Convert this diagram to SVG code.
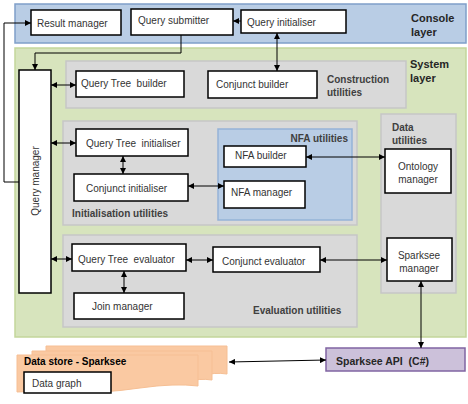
<svg xmlns="http://www.w3.org/2000/svg" width="468" height="404" viewBox="0 0 468 404">
<defs>
<marker id="ah" viewBox="0 0 6 6" refX="6" refY="3" markerWidth="6" markerHeight="6" markerUnits="userSpaceOnUse" orient="auto-start-reverse">
<path d="M0,0 L6,3 L0,6 Z" fill="#000"/>
</marker>
</defs>
<style>
text{font-family:"Liberation Sans",Arial,sans-serif;white-space:pre;}
.n{fill:#fff;stroke:#000;stroke-width:1.5;}
.t{font-size:10px;fill:#333;}
.lb{font-size:11px;font-weight:bold;fill:#262626;}
.ul{font-size:10px;font-weight:bold;fill:#404040;}
.grey{fill:#d9d9d9;stroke:#c6c6c6;stroke-width:1.5;}
.c{fill:none;stroke:#000;stroke-width:1;}
.d{marker-start:url(#ah);marker-end:url(#ah);}
.e{marker-end:url(#ah);}
</style>
<rect width="468" height="404" fill="#fff"/>
<g id="console-layer">
<rect x="15" y="4" width="451" height="39" fill="#b9cde5" stroke="#7f9fc9" stroke-width="1.5"/>
<text class="lb" x="411" y="22">Console</text>
<text class="lb" x="411" y="36">layer</text>
</g>
<g id="system-layer">
<rect x="15" y="48" width="451" height="289" fill="#d7e4bd" stroke="#c3d69b" stroke-width="1.5"/>
<text class="lb" x="410" y="68">System</text>
<text class="lb" x="410" y="82">layer</text>
</g>
<g id="construction-utilities">
<rect class="grey" x="66" y="61" width="340" height="47"/>
<text class="ul" x="327" y="83">Construction</text>
<text class="ul" x="327" y="96">utilities</text>
</g>
<g id="initialisation-utilities">
<rect class="grey" x="63" y="121" width="294" height="104"/>
<text class="ul" x="72" y="217">Initialisation utilities</text>
</g>
<g id="nfa-utilities">
<rect x="218" y="129" width="134" height="91" fill="#b9cde5" stroke="#95b3d7" stroke-width="1.5"/>
<text class="ul" x="348" y="142" text-anchor="end" fill="#262626">NFA utilities</text>
</g>
<g id="evaluation-utilities">
<rect class="grey" x="63" y="235" width="294" height="92"/>
<text class="ul" x="253" y="314">Evaluation utilities</text>
</g>
<g id="data-utilities">
<rect class="grey" x="381" y="114" width="75" height="179"/>
<text class="ul" x="392" y="131">Data</text>
<text class="ul" x="392" y="144">utilities</text>
</g>
<g id="result-manager">
<rect class="n" x="31" y="10" width="90" height="25"/>
<text class="t" x="37" y="27">Result manager</text>
</g>
<g id="query-submitter">
<rect class="n" x="131" y="9" width="102" height="26"/>
<text class="t" x="138" y="24">Query submitter</text>
</g>
<g id="query-initialiser">
<rect class="n" x="241" y="10" width="105" height="23"/>
<text class="t" x="247" y="26">Query initialiser</text>
</g>
<g id="query-manager">
<rect class="n" x="19" y="70" width="32" height="223"/>
<text class="t" transform="translate(39,181) rotate(-90)" text-anchor="middle">Query manager</text>
</g>
<g id="query-tree-builder">
<rect class="n" x="76" y="71" width="108" height="26"/>
<text class="t" x="81" y="87">Query Tree  builder</text>
</g>
<g id="conjunct-builder">
<rect class="n" x="208" y="71" width="109" height="27"/>
<text class="t" x="216" y="88">Conjunct builder</text>
</g>
<g id="query-tree-initialiser">
<rect class="n" x="76" y="129" width="112" height="27"/>
<text class="t" x="86" y="147">Query Tree  initialiser</text>
</g>
<g id="conjunct-initialiser">
<rect class="n" x="74" y="174" width="114" height="27"/>
<text class="t" x="86" y="192">Conjunct initialiser</text>
</g>
<g id="nfa-builder">
<rect class="n" x="224" y="146" width="82" height="21"/>
<text class="t" x="235" y="159">NFA builder</text>
</g>
<g id="nfa-manager">
<rect class="n" x="224" y="181" width="81" height="27"/>
<text class="t" x="231" y="196">NFA manager</text>
</g>
<g id="ontology-manager">
<rect class="n" x="385" y="149" width="66" height="44"/>
<text class="t" x="418" y="170" text-anchor="middle">Ontology</text>
<text class="t" x="418" y="183" text-anchor="middle">manager</text>
</g>
<g id="query-tree-evaluator">
<rect class="n" x="72" y="244" width="114" height="27"/>
<text class="t" x="78" y="263">Query Tree  evaluator</text>
</g>
<g id="join-manager">
<rect class="n" x="74" y="293" width="110" height="26"/>
<text class="t" x="92" y="310">Join manager</text>
</g>
<g id="conjunct-evaluator">
<rect class="n" x="213" y="247" width="107" height="25"/>
<text class="t" x="222" y="265">Conjunct evaluator</text>
</g>
<g id="sparksee-manager">
<rect class="n" x="387" y="238" width="65" height="43"/>
<text class="t" x="419" y="259" text-anchor="middle">Sparksee</text>
<text class="t" x="419" y="272" text-anchor="middle">manager</text>
</g>
<g id="sparksee-api">
<rect x="326" y="348" width="139" height="23" fill="#ccc1da" stroke="#8064a2" stroke-width="1.5"/>
<text x="336" y="365" style="font-size:10.5px;font-weight:bold;fill:#262626">Sparksee API  (C#)</text>
</g>
<g id="data-store">
<path d="M46,346 H227 V374 Q215,372 200,376 L46,377 Z" fill="#fac9a2" stroke="#f6bf94" stroke-width="1"/>
<path d="M32,351 H212 V380 Q200,378 185,382 L32,383 Z" fill="#fac9a2" stroke="#f6bf94" stroke-width="1"/>
<path d="M17,355 H198 V386 Q175,383 140,388 Q100,394 60,392 Q35,391 17,392 Z" fill="#fac9a2" stroke="#f6bf94" stroke-width="1"/>
<text x="24" y="365" style="font-size:10px;font-weight:bold;fill:#000">Data store - Sparksee</text>
<rect class="n" x="24" y="372" width="87" height="21"/>
<text class="t" x="32" y="387">Data graph</text>
</g>
<g id="connectors">
<path class="c e" d="M19,182 H4 V23 H31"/>
<path class="c e" d="M181,35 V53 H35 V70"/>
<path class="c e" d="M241,21 H233"/>
<path class="c d" d="M277,33 V71"/>
<path class="c d" d="M51,85 H76"/>
<path class="c d" d="M51,143 H76"/>
<path class="c d" d="M51,259 H72"/>
<path class="c d" d="M123,156 V174"/>
<path class="c d" d="M188,186 H224"/>
<path class="c d" d="M306,157 H385"/>
<path class="c d" d="M186,260 H213"/>
<path class="c d" d="M124,271 V293"/>
<path class="c d" d="M320,260 H387"/>
<path class="c d" d="M421,281 V348"/>
<path class="c d" d="M229,362 L326,360"/>
</g>
</svg>
